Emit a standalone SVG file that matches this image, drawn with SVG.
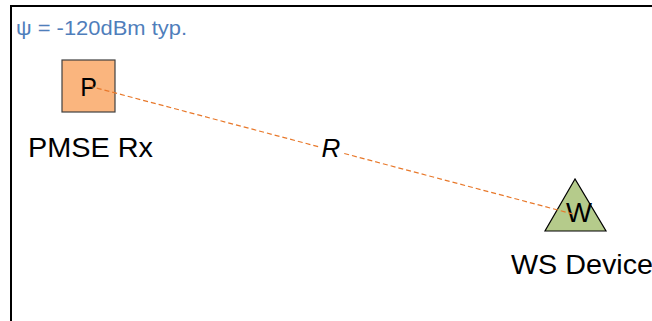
<svg xmlns="http://www.w3.org/2000/svg" width="652" height="321" viewBox="0 0 652 321">
<style>
.lbl{font-family:"Liberation Sans",Arial,sans-serif;fill:#000}
.link{stroke:#E8782A;stroke-width:1.2;stroke-dasharray:5,3;fill:none}
</style>
<rect x="0" y="0" width="652" height="321" fill="#fff"/>
<rect x="11" y="6" width="700" height="400" fill="none" stroke="#000" stroke-width="2"/>
<text x="16" y="35" class="lbl" style="fill:#4F7EBB" font-size="20.5" textLength="171" lengthAdjust="spacingAndGlyphs">ψ = -120dBm typ.</text>
<g id="pmse">
<rect x="62" y="60" width="53" height="52" fill="#FAB57E" stroke="#404040" stroke-width="1.2"/>
<text x="88.5" y="96" class="lbl" font-size="25" text-anchor="middle">P</text>
<text x="28" y="157" class="lbl" font-size="27" textLength="125" lengthAdjust="spacingAndGlyphs">PMSE Rx</text>
</g>
<g id="ws">
<polygon points="575,179 545,231 606,231" fill="#B5CB8B" stroke="#000" stroke-width="1.2"/>
<text x="579" y="222" class="lbl" font-size="27.5" textLength="26" lengthAdjust="spacingAndGlyphs" text-anchor="middle">W</text>
<text x="511" y="274" class="lbl" font-size="27" textLength="142" lengthAdjust="spacingAndGlyphs">WS Device</text>
</g>
<g id="connectors">
<line class="link" x1="89" y1="86" x2="573" y2="214"/>
</g>
<g id="R-label">
<rect x="320" y="137" width="22" height="22" fill="#fff"/>
<text x="331" y="157" class="lbl" font-size="26" font-style="italic" text-anchor="middle">R</text>
</g>
</svg>
